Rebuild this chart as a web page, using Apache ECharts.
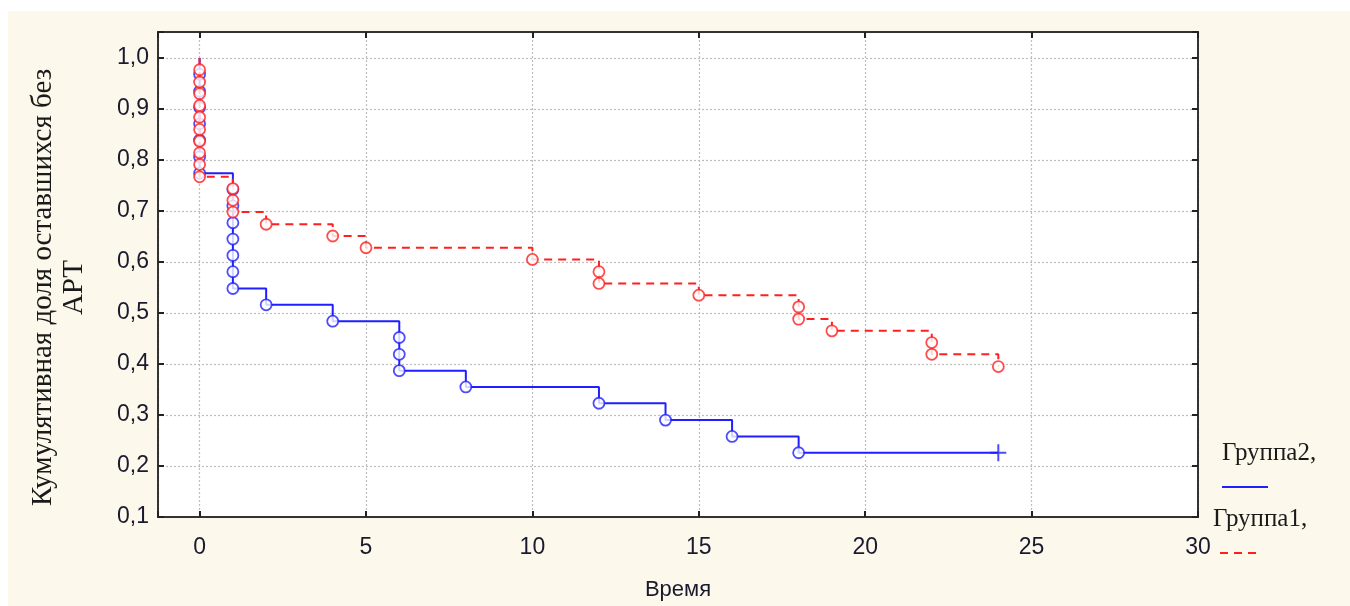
<!DOCTYPE html>
<html>
<head>
<meta charset="utf-8">
<title>Кумулятивная доля оставшихся без АРТ</title>
<script src="https://cdn.jsdelivr.net/npm/echarts@6/dist/echarts.min.js"></script>
<style>
    html, body { margin: 0; padding: 0; background: #ffffff; }
    #wrap { position: relative; width: 1350px; height: 606px; }
    #paper { position: absolute; left: 8px; top: 11px; right: 0; bottom: 0; background: #fdf8ec; }
    #main { position: absolute; left: 0; top: 0; width: 1350px; height: 606px; }
</style>
</head>
<body>
<div id="wrap">
    <div id="paper"></div>
    <div id="main"></div>
</div>
<script>
    // Группа2 : моменты событий и доля оставшихся после каждого события
    var g2Time = [0, 0, 0, 0, 0, 0, 0, 1, 1, 1, 1, 1, 1, 1, 2, 4, 6, 6, 6, 8, 12, 14, 16, 18];
    var g2Surv = [0.968, 0.935, 0.903, 0.871, 0.839, 0.806, 0.774, 0.742, 0.710, 0.677, 0.645, 0.613,
                  0.581, 0.548, 0.516, 0.484, 0.452, 0.419, 0.387, 0.355, 0.323, 0.290, 0.258, 0.226];
    // цензурированное наблюдение Группы2
    var g2CensTime = [24];
    var g2CensSurv = [0.226];

    // Группа1
    var g1Time = [0, 0, 0, 0, 0, 0, 0, 0, 0, 0, 1, 1, 1, 2, 4, 5, 10, 12, 12, 15, 18, 18, 19, 22, 22, 24];
    var g1Surv = [0.977, 0.953, 0.930, 0.907, 0.884, 0.860, 0.837, 0.814, 0.791, 0.767, 0.744, 0.721, 0.698,
                  0.674, 0.651, 0.628, 0.605, 0.581, 0.558, 0.535, 0.512, 0.488, 0.465, 0.442, 0.419, 0.395];

    var legendNames = ['Группа2,', 'Группа1,'];
    var axisNameY = 'Кумулятивная доля оставшихся без\nАРТ';
    var axisNameX = 'Время';

    var blue = '#1f1fff';
    var red = '#ff1f1f';
    var sans = '"Liberation Sans", Arial, sans-serif';
    var serif = '"Liberation Serif", "Times New Roman", serif';

    function pairs(t, s) {
        var out = [];
        for (var i = 0; i < t.length; i++) out.push([t[i], s[i]]);
        return out;
    }

    var g2Events = pairs(g2Time, g2Surv);
    var g1Events = pairs(g1Time, g1Surv);
    var g2Cens = pairs(g2CensTime, g2CensSurv);
    var g2Steps = [[0, 1]].concat(g2Events, g2Cens);
    var g1Steps = [[0, 1]].concat(g1Events);

    function yLabel(v) {
        var k = Math.round(v * 10);
        if (Math.abs(v * 10 - k) > 1e-6) return '';
        return (k / 10).toFixed(1).replace('.', ',');
    }
    function xLabel(v) {
        return Math.abs(v - Math.round(v)) > 1e-6 ? '' : String(v);
    }

    var myChart = echarts.init(document.getElementById('main'));

    var tickStyle = { show: true, inside: true, length: 6, lineStyle: { color: '#222', width: 2 } };
    var lineAxis = { show: true, onZero: false, lineStyle: { color: '#333', width: 2 } };
    var gridLine = { show: true, lineStyle: { color: '#bdbdbd', type: [2, 2], width: 1.2 } };

    var option = {
        backgroundColor: 'transparent',
        animation: false,
        grid: {
            left: 158, right: 152, top: 32, bottom: 89,
            show: true,
            backgroundColor: '#ffffff',
            borderColor: '#333',
            borderWidth: 2
        },
        xAxis: [{
            type: 'value',
            min: -1.25,
            max: 30,
            splitNumber: 6,
            axisLine: lineAxis,
            axisTick: tickStyle,
            splitLine: gridLine,
            axisLabel: { formatter: xLabel, color: '#1a1a2e', fontSize: 23, fontFamily: sans, margin: 19 },
            name: axisNameX,
            nameLocation: 'middle',
            nameGap: 62,
            nameTextStyle: { color: '#1a1a2e', fontSize: 22, fontFamily: sans }
        }, {
            type: 'value',
            position: 'top',
            min: -1.25,
            max: 30,
            splitNumber: 6,
            axisLine: lineAxis,
            axisTick: tickStyle,
            splitLine: { show: false },
            axisLabel: { show: false }
        }],
        yAxis: [{
            type: 'value',
            min: 0.1,
            max: 1.051,
            interval: 0.1,
            axisLine: lineAxis,
            axisTick: tickStyle,
            splitLine: gridLine,
            axisLabel: { formatter: yLabel, color: '#1a1a2e', fontSize: 23, fontFamily: sans, margin: 9 },
            name: axisNameY,
            nameLocation: 'middle',
            nameRotate: 90,
            nameGap: 68,
            nameTextStyle: { color: '#1a1a1a', fontSize: 29, fontFamily: serif, lineHeight: 31, padding: [0, 26, 0, 0] }
        }, {
            type: 'value',
            position: 'right',
            min: 0.1,
            max: 1.051,
            interval: 0.1,
            axisLine: lineAxis,
            axisTick: tickStyle,
            splitLine: { show: false },
            axisLabel: { show: false }
        }],
        series: [
            {
                name: legendNames[0],
                type: 'line',
                step: 'end',
                data: g2Steps,
                showSymbol: false,
                symbol: 'none',
                lineStyle: { color: blue, width: 2 },
                z: 3
            },
            {
                name: legendNames[0],
                type: 'scatter',
                data: g2Events,
                symbol: 'circle',
                symbolSize: 11,
                itemStyle: { color: '#ffffff', borderColor: blue, borderWidth: 1.8 },
                z: 4
            },
            {
                name: legendNames[0],
                type: 'scatter',
                data: g2Cens,
                symbol: 'path://M7,0h2v7h7v2h-7v7h-2v-7h-7v-2h7z',
                symbolSize: [16, 17],
                itemStyle: { color: blue },
                z: 4
            },
            {
                name: legendNames[1],
                type: 'line',
                step: 'end',
                data: g1Steps,
                showSymbol: false,
                symbol: 'none',
                lineStyle: { color: red, width: 2, type: [8, 6] },
                z: 5
            },
            {
                name: legendNames[1],
                type: 'scatter',
                data: g1Events,
                symbol: 'circle',
                symbolSize: 11,
                itemStyle: { color: '#ffffff', borderColor: red, borderWidth: 1.8 },
                z: 6
            }
        ],
        graphic: [
            {
                type: 'text', left: 1222, top: 441,
                style: { text: legendNames[0], font: '25px ' + serif, fill: '#1a1a1a' }
            },
            {
                type: 'line', shape: { x1: 1222, y1: 487, x2: 1268, y2: 487 },
                style: { stroke: blue, lineWidth: 2 }
            },
            {
                type: 'text', left: 1213, top: 507,
                style: { text: legendNames[1], font: '25px ' + serif, fill: '#1a1a1a' }
            },
            {
                type: 'line', shape: { x1: 1220, y1: 553, x2: 1262, y2: 553 },
                style: { stroke: red, lineWidth: 2, lineDash: [8, 6] }
            }
        ]
    };

    myChart.setOption(option);
</script>
</body>
</html>
